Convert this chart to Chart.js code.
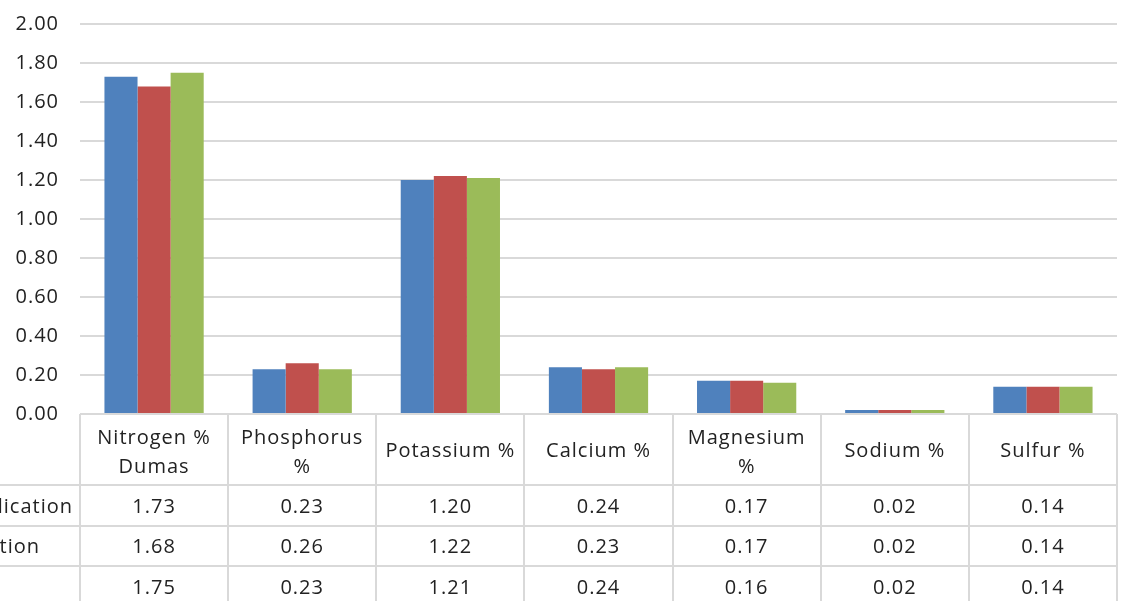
<!DOCTYPE html>
<html>
<head>
<meta charset="utf-8">
<script src="https://cdn.jsdelivr.net/npm/chart.js@4.4.1/dist/chart.umd.min.js"></script>
<style>
  html, body { margin: 0; padding: 0; background: #fff; }
  #wrap { width: 1125px; height: 601px; position: relative; }
</style>
</head>
<body>
<div id="wrap"><canvas id="nutrientChart"></canvas></div>
<script>
// categories (header row of the data table)
var categories = [
  ["Nitrogen %", "Dumas"],
  ["Phosphorus", "%"],
  ["Potassium %"],
  ["Calcium %"],
  ["Magnesium", "%"],
  ["Sodium %"],
  ["Sulfur %"]
];
// row labels, cut off at the left edge in the reference
var rowLabels = ["lication", "tion", ""];
var series1 = [1.73, 0.23, 1.20, 0.24, 0.17, 0.02, 0.14];
var series2 = [1.68, 0.26, 1.22, 0.23, 0.17, 0.02, 0.14];
var series3 = [1.75, 0.23, 1.21, 0.24, 0.16, 0.02, 0.14];
var colours = ['#4F81BD', '#C0504D', '#9BBB59'];
var yTicks = [0, 0.2, 0.4, 0.6, 0.8, 1.0, 1.2, 1.4, 1.6, 1.8, 2.0];

var fontFamily = '"Open Sans", "Noto Sans", sans-serif';
var fontSize = 20;
var textColour = '#222222';
var lineColour = '#d9d9d9';

// wider letter spacing to get closer to the Calibri look
var spacing = {
  id: 'spacing',
  beforeDraw: function(chart) {
    chart.ctx.letterSpacing = '1px';
  }
};

// draws the data table under the plot area
var dataTable = {
  id: 'dataTable',
  afterDraw: function(chart) {
    var ctx = chart.ctx;
    var area = chart.chartArea;
    var n = categories.length;
    var colW = (area.right - area.left) / n;
    var top = area.bottom;
    var headerBottom = top + 71;
    var rowH = 40.5;
    var rows = [series1, series2, series3];

    ctx.save();
    ctx.strokeStyle = lineColour;
    ctx.lineWidth = 2;

    // vertical lines
    for (var i = 0; i <= n; i++) {
      var x = Math.round(area.left + i * colW);
      ctx.beginPath();
      ctx.moveTo(x, top);
      ctx.lineTo(x, chart.height + 2);
      ctx.stroke();
    }
    // header top
    ctx.beginPath();
    ctx.moveTo(area.left, top);
    ctx.lineTo(area.right, top);
    ctx.stroke();
    // row lines, running out under the row labels
    for (var r = 0; r < rows.length; r++) {
      var y = Math.round(headerBottom + r * rowH);
      ctx.beginPath();
      ctx.moveTo(0, y);
      ctx.lineTo(area.right, y);
      ctx.stroke();
    }

    ctx.fillStyle = textColour;
    ctx.font = fontSize + 'px ' + fontFamily;
    ctx.letterSpacing = '1px';
    ctx.textAlign = 'center';
    ctx.textBaseline = 'middle';

    // header text
    for (var c = 0; c < n; c++) {
      var cx = area.left + (c + 0.5) * colW;
      var lines = categories[c];
      var midY = (top + headerBottom) / 2 + 2;
      if (lines.length === 1) {
        ctx.fillText(lines[0], cx, midY);
      } else {
        ctx.fillText(lines[0], cx, midY - 13);
        ctx.fillText(lines[1], cx, midY + 16);
      }
    }

    // values
    for (var r = 0; r < rows.length; r++) {
      var ry = headerBottom + r * rowH + rowH / 2 + 2;
      for (var c = 0; c < n; c++) {
        var cx = area.left + (c + 0.5) * colW;
        ctx.fillText(rows[r][c].toFixed(2), cx, ry);
      }
    }

    // row labels
    ctx.textAlign = 'right';
    var labelRight = [73, 40, 73];
    for (var r = 0; r < rowLabels.length; r++) {
      var ry = headerBottom + r * rowH + rowH / 2 + 2;
      ctx.fillText(rowLabels[r], labelRight[r], ry);
    }
    ctx.restore();
  }
};

var ctx = document.getElementById('nutrientChart').getContext('2d');
var nutrientChart = new Chart(ctx, {
  type: 'bar',
  data: {
    labels: categories,
    datasets: [
      { label: 'Series 1', data: series1, backgroundColor: colours[0], borderWidth: 0 },
      { label: 'Series 2', data: series2, backgroundColor: colours[1], borderWidth: 0 },
      { label: 'Series 3', data: series3, backgroundColor: colours[2], borderWidth: 0 }
    ]
  },
  options: {
    responsive: true,
    maintainAspectRatio: false,
    animation: false,
    layout: { padding: { top: 24, bottom: 187, left: 0, right: 8 } },
    datasets: {
      bar: { categoryPercentage: 0.67, barPercentage: 1.0 }
    },
    plugins: {
      legend: { display: false },
      tooltip: { enabled: false }
    },
    scales: {
      x: { display: false },
      y: {
        min: 0,
        max: 2,
        afterFit: function(scale) {
          scale.width = 80;
          scale.paddingTop = 0;
          scale.paddingBottom = 0;
        },
        afterBuildTicks: function(scale) {
          scale.ticks = yTicks.map(function(v) { return { value: v }; });
        },
        ticks: {
          padding: 21,
          color: textColour,
          font: { family: fontFamily, size: fontSize },
          callback: function(v) { return Number(v).toFixed(2); }
        },
        grid: { color: lineColour, lineWidth: 2, drawTicks: false },
        border: { display: false }
      }
    }
  },
  plugins: [spacing, dataTable]
});
</script>
</body>
</html>
